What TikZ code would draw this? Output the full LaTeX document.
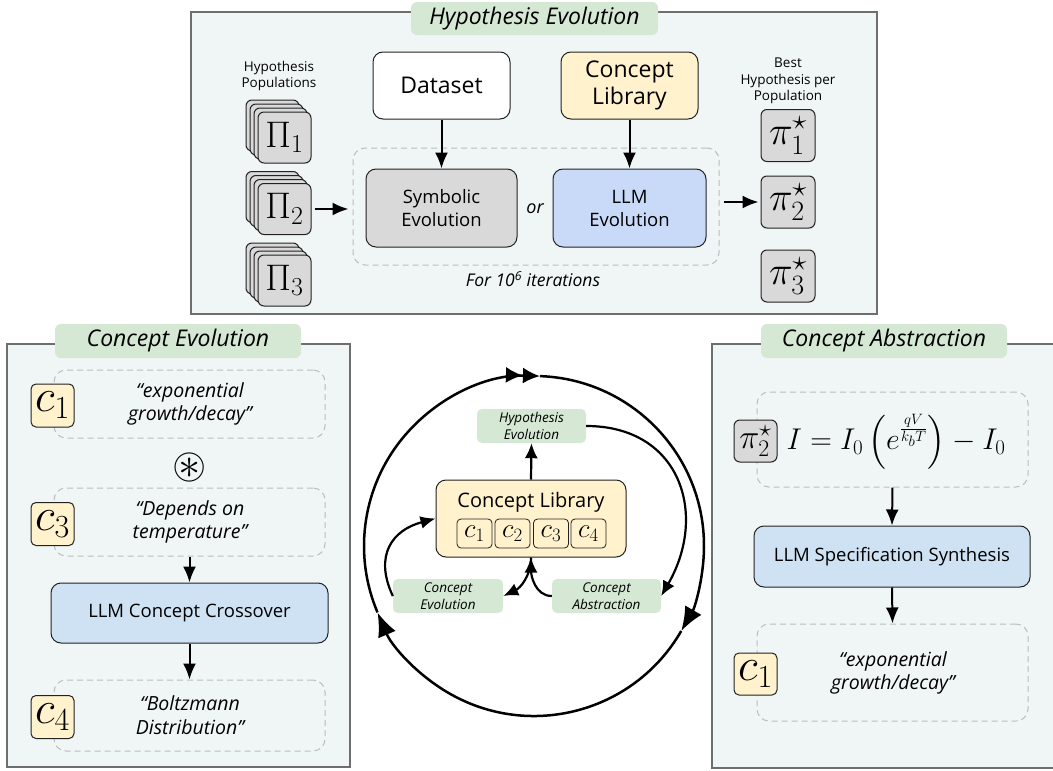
\RequirePackage{fix-cm}
\documentclass[tikz,border=0pt]{standalone}
\usepackage{amssymb}
\usepackage[no-math]{fontspec}
\setmainfont{Open Sans}
\usetikzlibrary{arrows.meta,calc}
\definecolor{panelfill}{HTML}{F0F6F6}
\definecolor{panelline}{HTML}{6E6E6E}
\definecolor{tabgreen}{HTML}{D5E8D4}
\definecolor{boxgray}{HTML}{D9D9D9}
\definecolor{llmblue}{HTML}{C9DAF8}
\definecolor{llmlight}{HTML}{CFE2F3}
\definecolor{cyellow}{HTML}{FFF2CC}
\definecolor{dashgray}{HTML}{BDBDBD}
\definecolor{ink}{HTML}{222222}
\tikzset{
  panel/.style={draw=panelline, line width=1.6pt, fill=panelfill},
  tab/.style={fill=tabgreen, rounded corners=6pt, inner sep=0pt, font=\fontsize{23}{26}\selectfont\itshape},
  smalltab/.style={fill=tabgreen, rounded corners=5pt, inner sep=0pt, align=center, font=\fontsize{13.5}{17}\selectfont\itshape},
  dashbox/.style={draw=dashgray, dash pattern=on 6pt off 4pt, rounded corners=12pt, line width=1pt},
  procbox/.style={draw=ink, line width=1pt, rounded corners=10pt, align=center, inner sep=0pt},
  card/.style={draw=ink, fill=boxgray, line width=1pt, rounded corners=6pt, minimum width=53pt, minimum height=51pt, inner sep=0pt, font=\fontsize{37}{37}\selectfont},
  pibox/.style={draw=ink, fill=boxgray, line width=1pt, rounded corners=6pt, minimum width=54pt, minimum height=52pt, inner sep=0pt, font=\fontsize{40}{40}\selectfont},
  cbox/.style={draw=ink, fill=cyellow, line width=1pt, rounded corners=5pt, minimum width=43pt, minimum height=43pt, inner sep=0pt, font=\fontsize{46}{46}\selectfont},
  smallc/.style={draw=ink, fill=cyellow, line width=0.8pt, rounded corners=4pt, minimum width=35pt, minimum height=29pt, inner sep=0pt, font=\fontsize{27}{27}\selectfont},
  quote/.style={align=center, font=\fontsize{19.5}{23.5}\selectfont\itshape},
  label/.style={align=center, font=\fontsize{13.5}{16.5}\selectfont},
  arr/.style={line width=2pt, -{Latex[length=16pt,width=13pt]}},
  carr/.style={line width=2.2pt, -{Latex[length=15pt,width=13pt]}},
  ring/.style={line width=2.5pt}
}
\newcommand\popstack[3]{%
  \foreach \k in {3,2,1}{\node[card] (#1b\k) at ($(#2)+(-4*\k,-4*\k)$) {};}
  \node[card] (#1) at (#2) {#3};
}
\begin{document}
\begin{tikzpicture}[x=1pt,y=-1pt]
\useasboundingbox (0,0) rectangle (1053,771);

% ================= Top panel =================
\draw[panel] (191,12) rectangle (877,314);
\node[tab, minimum width=247pt, minimum height=33pt] (tabH) at (534.5,18.5) {Hypothesis Evolution};

\node[label] (hpl) at (279,76) {Hypothesis\\Populations};
\popstack{pA}{284.5,137.5}{$\Pi_1$}
\popstack{pB}{284.5,209}{$\Pi_2$}
\popstack{pC}{284.5,280.5}{$\Pi_3$}

\node[dashbox, minimum width=366pt, minimum height=117pt] (loop) at (536,206.5) {};
\node[procbox, fill=white, minimum width=137pt, minimum height=67pt, font=\fontsize{23}{27}\selectfont] (ds) at (441.5,85.5) {Dataset};
\node[procbox, fill=cyellow, minimum width=137pt, minimum height=67pt, font=\fontsize{23}{27}\selectfont] (lib) at (629.5,85.5) {Concept\\Library};
\node[procbox, fill=boxgray, minimum width=151pt, minimum height=78pt, font=\fontsize{18.5}{23}\selectfont] (sym) at (441.5,208) {Symbolic\\Evolution};
\node[procbox, fill=llmblue, minimum width=153pt, minimum height=78pt, font=\fontsize{18.5}{23}\selectfont] (llm) at (629.5,208) {LLM\\Evolution};
\node[font=\fontsize{18}{20}\selectfont\itshape] (or) at (535,209) {or};
\node[font=\fontsize{17.5}{20}\selectfont\itshape] (iter) at (533,279) {For 10\textsuperscript{6} iterations};

\node[label] (bhl) at (788,81) {Best\\Hypothesis per\\Population};
\node[pibox] (s1) at (788,135.5) {$\pi_1^\star$};
\node[pibox] (s2) at (788,202) {$\pi_2^\star$};
\node[pibox] (s3) at (788,276) {$\pi_3^\star$};

\draw[arr] (ds.south) -- (sym.north);
\draw[arr] (lib.south) -- (llm.north);
\draw[arr, shorten <=3pt, shorten >=4pt] (pB.east) -- (pB.east -| loop.west);
\draw[arr, shorten <=4pt, shorten >=2pt] (s2.west -| loop.east) -- (s2.west);

% ================= Left panel =================
\draw[panel] (7,344) rectangle (350,767);
\node[tab, minimum width=246pt, minimum height=34pt] (tabE) at (178,341) {Concept Evolution};

\node[dashbox, minimum width=271pt, minimum height=68pt] (e1) at (189.5,404) {};
\node[dashbox, minimum width=271pt, minimum height=68pt] (e2) at (189.5,522) {};
\node[dashbox, minimum width=271pt, minimum height=71pt] (e3) at (189.5,715.5) {};
\node[cbox] (ec1) at (52.5,405.5) {$c_1$};
\node[cbox] (ec3) at (52.5,524) {$c_3$};
\node[cbox] (ec4) at (52.5,717) {$c_4$};
\node[quote] (et1) at (190,404) {“exponential\\growth/decay”};
\node[quote] (et2) at (190,522) {“Depends on\\temperature”};
\node[quote] (et3) at (190,715) {“Boltzmann\\Distribution”};
\node[inner sep=0pt, font=\fontsize{44}{44}\selectfont] (ast) at (190,467) {$\circledast$};
\node[procbox, fill=llmlight, minimum width=277pt, minimum height=60pt, font=\fontsize{18.5}{22}\selectfont] (cross) at (189.5,613) {LLM Concept Crossover};
\draw[arr] (e2.south) -- (cross.north);
\draw[arr] (cross.south) -- (e3.north);

% ================= Right panel =================
\draw[panel] (712,344) rectangle (1070,768);
\node[tab, minimum width=246pt, minimum height=34pt] (tabA) at (884,341) {Concept Abstraction};

\node[dashbox, minimum width=271pt, minimum height=95pt] (a1) at (892.5,439.5) {};
\node[dashbox, minimum width=271pt, minimum height=97pt] (a2) at (892.5,672.5) {};
\node[pibox, minimum width=43pt, minimum height=42pt, font=\fontsize{34}{34}\selectfont] (as2) at (755.5,441) {$\pi_2^\star$};
\node[inner sep=0pt, font=\fontsize{30}{30}\selectfont] (form) at (896,442) {$\displaystyle I = I_0\left(e^{\frac{qV}{k_bT}}\right) - I_0$};
\node[procbox, fill=llmlight, minimum width=276pt, minimum height=61pt, font=\fontsize{18.5}{22}\selectfont] (spec) at (892,556.5) {LLM Specification Synthesis};
\node[cbox, minimum height=42pt] (ac1) at (755.5,674) {$c_1$};
\node[quote] (at1) at (893,673) {“exponential\\growth/decay”};
\draw[arr] (a1.south) -- (spec.north);
\draw[arr] (spec.south) -- (a2.north);

% ================= Center cycle =================
\draw[ring, -{Latex[length=24pt,width=19pt]}] (534,546) ++(30:170) arc[start angle=30, end angle=157, radius=170];
\draw[ring, -{Latex[length=17pt,width=16pt]Latex[length=17pt,width=16pt]}] (534,546) ++(157:170) arc[start angle=157, end angle=272, radius=170];
\draw[ring, -{Latex[length=24pt,width=19pt]}] (534,546) ++(272:170) arc[start angle=272, end angle=390, radius=170];

\node[smalltab, minimum width=109pt, minimum height=34pt] (he) at (531.5,426) {Hypothesis\\Evolution};
\node[procbox, fill=cyellow, minimum width=190pt, minimum height=77pt] (cl) at (531,518.5) {};
\node[font=\fontsize{20}{24}\selectfont] (cltxt) at (531,502) {Concept Library};
\node[smallc] (k1) at (474.5,533.5) {$c_1$};
\node[smallc] (k2) at (512.5,533.5) {$c_2$};
\node[smallc] (k3) at (551,533.5) {$c_3$};
\node[smallc] (k4) at (588.5,533.5) {$c_4$};
\node[smalltab, minimum width=110pt, minimum height=34pt] (ce) at (448,596) {Concept\\Evolution};
\node[smalltab, minimum width=109pt, minimum height=34pt] (ca) at (606.5,596) {Concept\\Abstraction};

\draw[carr] (cl.north) -- (he.south);
\draw[carr] (he.east) to[out=0, in=60, looseness=1.3] (ca.east);
\draw[carr] (ce.west) to[out=115, in=195, looseness=1.3] (cl.west);
\draw[carr] (ca.west) to[out=180, in=-90] (cl.south);
\draw[carr] (cl.south) to[out=-90, in=25] (ce.east);
\end{tikzpicture}
\end{document}
